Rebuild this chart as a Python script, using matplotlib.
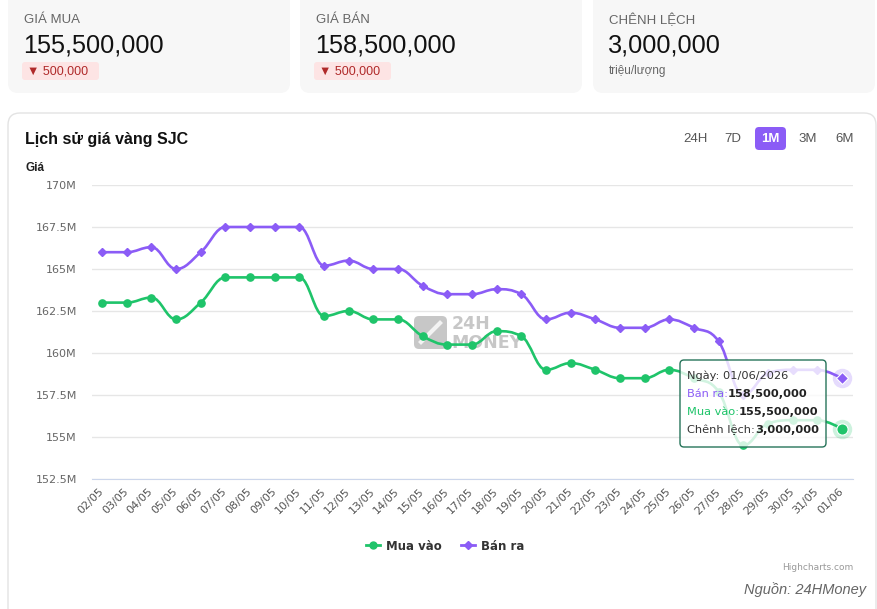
import numpy as np
import matplotlib
matplotlib.use("Agg")
import matplotlib.pyplot as plt
from matplotlib.patches import FancyBboxPatch, PathPatch
from matplotlib.path import Path
from matplotlib.transforms import Affine2D
from matplotlib.lines import Line2D

# ---- data ----
dates = ["02/05", "03/05", "04/05", "05/05", "06/05", "07/05", "08/05", "09/05",
         "10/05", "11/05", "12/05", "13/05", "14/05", "15/05", "16/05", "17/05",
         "18/05", "19/05", "20/05", "21/05", "22/05", "23/05", "24/05", "25/05",
         "26/05", "27/05", "28/05", "29/05", "30/05", "31/05", "01/06"]
mua_vao = [163.0, 163.0, 163.3, 162.0, 163.0, 164.5, 164.5, 164.5,
           164.5, 162.2, 162.5, 162.0, 162.0, 161.0, 160.5, 160.5,
           161.3, 161.0, 159.0, 159.4, 159.0, 158.5, 158.5, 159.0,
           158.5, 157.7, 154.5, 155.8, 156.0, 156.0, 155.5]
ban_ra = [166.0, 166.0, 166.3, 165.0, 166.0, 167.5, 167.5, 167.5,
          167.5, 165.2, 165.5, 165.0, 165.0, 164.0, 163.5, 163.5,
          163.8, 163.5, 162.0, 162.4, 162.0, 161.5, 161.5, 162.0,
          161.5, 160.7, 157.5, 158.8, 159.0, 159.0, 158.5]
y_ticks = [152.5, 155, 157.5, 160, 162.5, 165, 167.5, 170]

card_labels = ["GIÁ MUA", "GIÁ BÁN", "CHÊNH LỆCH"]
card_values = ["155,500,000", "158,500,000", "3,000,000"]
card_notes = ["▼ 500,000", "▼ 500,000", "triệu/lượng"]
ranges = ["24H", "7D", "1M", "3M", "6M"]

tip_date = "Ngày: 01/06/2026"
tip_rows = [("Bán ra:", "158,500,000"), ("Mua vào:", "155,500,000"),
            ("Chênh lệch:", "3,000,000")]

GREEN = "#1fc46a"
PURPLE = "#8b5cf6"
W, H = 877, 609

fig = plt.figure(figsize=(W / 100, H / 100), dpi=100)
fig.patch.set_facecolor("white")
pix = Affine2D().scale(1 / W, -1 / H).translate(0, 1) + fig.transFigure


def rbox(x0, y0, x1, y1, fc, ec="none", r=10, lw=1.0, z=-2):
    p = FancyBboxPatch((x0, y0), x1 - x0, y1 - y0,
                       boxstyle="round,pad=0,rounding_size=%s" % r,
                       transform=pix, fc=fc, ec=ec, lw=lw, zorder=z)
    fig.add_artist(p)
    return p


def ftext(x, y, s, **kw):
    return fig.text(x / W, 1 - y / H, s, **kw)


SANS = ["Liberation Sans", "DejaVu Sans"]

# ---- summary cards ----
card_x = [8, 300, 593]
for i in range(3):
    x0 = card_x[i]
    rbox(x0, -12, x0 + 282, 93, "#f7f7f7", r=10)
    ftext(x0 + 16, 20, card_labels[i], family=SANS, fontsize=9.5,
          color="#666666", va="center")
    ftext(x0 + 15, 46, card_values[i], family=SANS, fontsize=18.2,
          color="#111111", va="center")
    if card_notes[i].startswith("▼"):
        rbox(x0 + 14, 62, x0 + 91, 80, "#fde4e4", r=3, z=-1)
        ftext(x0 + 19, 71, card_notes[i], family=SANS, fontsize=9,
              color="#b02a2a", va="center")
    else:
        ftext(x0 + 16, 71, card_notes[i], family=SANS, fontsize=8.5,
              color="#666666", va="center")

# ---- chart panel ----
rbox(8, 113, 876, 640, "white", ec="#e3e3e3", r=12, lw=1.0)
ftext(25, 139, "Lịch sử giá vàng SJC", family=SANS, fontsize=11.5,
      weight="bold", color="#111111", va="center")
ftext(25, 168, "Giá", family=SANS, fontsize=8.5, weight="bold",
      color="#222222", va="center")
btn_x = [695, 733, 770, 808, 845]
for lab, bx in zip(ranges, btn_x):
    if lab == "1M":
        rbox(bx - 15, 127, bx + 16, 150, PURPLE, r=4, z=-1)
        ftext(bx, 139, lab, family=SANS, fontsize=9.5, color="white",
              weight="bold", ha="center", va="center")
    else:
        ftext(bx, 139, lab, family=SANS, fontsize=9.5, color="#555555",
              ha="center", va="center")

# ---- axes ----
ax = fig.add_axes([92 / W, 1 - 479 / H, (853 - 92) / W, (479 - 185) / H])
ax.set_facecolor("none")
ax.set_xlim(-0.41, 30.45)
ax.set_ylim(152.5, 170)
ax.set_yticks(y_ticks)
ax.set_yticklabels(["%gM" % v for v in y_ticks], family="DejaVu Sans",
                   fontsize=8, color="#666666")
ax.set_xticks(range(len(dates)))
ax.set_xticklabels(dates, rotation=45, ha="right", va="center",
                   rotation_mode="anchor", family="DejaVu Sans",
                   fontsize=8, color="#555555")
ax.tick_params(axis="both", length=0)
ax.tick_params(axis="y", pad=11)
ax.tick_params(axis="x", pad=8)
for s in ["top", "left", "right"]:
    ax.spines[s].set_visible(False)
ax.spines["bottom"].set_color("#ccd6eb")
ax.grid(axis="y", color="#e6e6e6", lw=1)
ax.set_axisbelow(True)


def spline(xs, ys, smooth=1.5):
    # Highcharts-style spline control points
    n = len(xs)
    left = [(xs[i], ys[i]) for i in range(n)]
    right = [(xs[i], ys[i]) for i in range(n)]
    d = smooth + 1
    for i in range(1, n - 1):
        px, py = xs[i], ys[i]
        lx, ly = xs[i - 1], ys[i - 1]
        nx, ny = xs[i + 1], ys[i + 1]
        lcx = (smooth * px + lx) / d
        lcy = (smooth * py + ly) / d
        rcx = (smooth * px + nx) / d
        rcy = (smooth * py + ny) / d
        if rcx != lcx:
            corr = (rcy - lcy) * (rcx - px) / (rcx - lcx) + py - rcy
            lcy += corr
            rcy += corr
        if lcy > max(ly, py):
            lcy = max(ly, py)
            rcy = 2 * py - lcy
        elif lcy < min(ly, py):
            lcy = min(ly, py)
            rcy = 2 * py - lcy
        if rcy > max(ny, py):
            rcy = max(ny, py)
            lcy = 2 * py - rcy
        elif rcy < min(ny, py):
            rcy = min(ny, py)
            lcy = 2 * py - rcy
        left[i] = (lcx, lcy)
        right[i] = (rcx, rcy)
    verts = [(xs[0], ys[0])]
    codes = [Path.MOVETO]
    for i in range(1, n):
        verts += [right[i - 1], left[i], (xs[i], ys[i])]
        codes += [Path.CURVE4] * 3
    return Path(verts, codes)


xs = list(range(len(dates)))
for vals, col, mk, ms in [(ban_ra, PURPLE, "D", 4.2), (mua_vao, GREEN, "o", 5.2)]:
    ax.add_patch(PathPatch(spline(xs, vals), fc="none", ec=col, lw=1.9,
                           zorder=3, capstyle="round", joinstyle="round"))
    ax.plot(xs[:-1], vals[:-1], ls="none", marker=mk, ms=ms, color=col,
            mec=col, zorder=4)
    ax.plot(xs[-1], vals[-1], ls="none", marker="o", ms=14, color=col,
            alpha=0.22, mec="none", zorder=4, clip_on=False)
    ax.plot(xs[-1], vals[-1], ls="none", marker=mk, ms=ms * 1.55, color=col,
            mec="white", mew=0.8, zorder=5, clip_on=False)

# ---- watermark ----
wm = "#9a9a9a"
ax.add_patch(FancyBboxPatch((414, 316), 33, 33,
                            boxstyle="round,pad=0,rounding_size=5",
                            transform=pix, fc=wm, ec="none", alpha=0.55,
                            zorder=1))
ax.add_line(Line2D([421, 440], [342, 323], transform=pix, color="white",
                   lw=3, alpha=0.8, zorder=1.2))
ax.text(452, 324, "24H", transform=pix, family="DejaVu Sans", weight="bold",
        fontsize=12.5, color=wm, alpha=0.55, va="center", zorder=1)
ax.text(451, 343, "MONEY", transform=pix, family="DejaVu Sans", weight="bold",
        fontsize=12.5, color=wm, alpha=0.55, va="center", zorder=1)

# ---- tooltip ----
ax.add_patch(FancyBboxPatch((680, 360), 146, 87,
                            boxstyle="round,pad=0,rounding_size=4",
                            transform=pix, fc=(1, 1, 1, 0.8), ec="#27745a",
                            lw=1, zorder=8, clip_on=False))
TIP = dict(family="DejaVu Sans", fontsize=8.2, zorder=9, clip_on=False)
ax.text(687, 376, tip_date, transform=pix, color="#333333", va="center", **TIP)
row_cols = [PURPLE, GREEN, "#333333"]
for k, (lab, val) in enumerate(tip_rows):
    t = ax.text(687, 394 + 18 * k, lab, transform=pix, color=row_cols[k],
                va="center", **TIP)
    ax.annotate(val, xy=(1, 0), xycoords=t, va="bottom", ha="left",
                color="#222222", weight="bold", annotation_clip=False, **TIP)

# ---- legend ----
handles = [Line2D([], [], color=GREEN, lw=2, marker="o", ms=5),
           Line2D([], [], color=PURPLE, lw=2, marker="D", ms=4)]
fig.legend(handles, ["Mua vào", "Bán ra"], loc="center",
           bbox_to_anchor=(445 / W, 1 - 546 / H), ncol=2, frameon=False,
           handlelength=1.2, handletextpad=0.5, columnspacing=1.6,
           prop=dict(family="DejaVu Sans", weight="bold", size=8.5),
           labelcolor="#333333")

ftext(853, 567, "Highcharts.com", family="DejaVu Sans", fontsize=6.5,
      color="#999999", ha="right", va="center")
ftext(866, 590, "Nguồn: 24HMoney", family=SANS, fontsize=10.5,
      style="italic", color="#666666", ha="right", va="center")

fig.savefig("out.png", dpi=100, facecolor="white")
